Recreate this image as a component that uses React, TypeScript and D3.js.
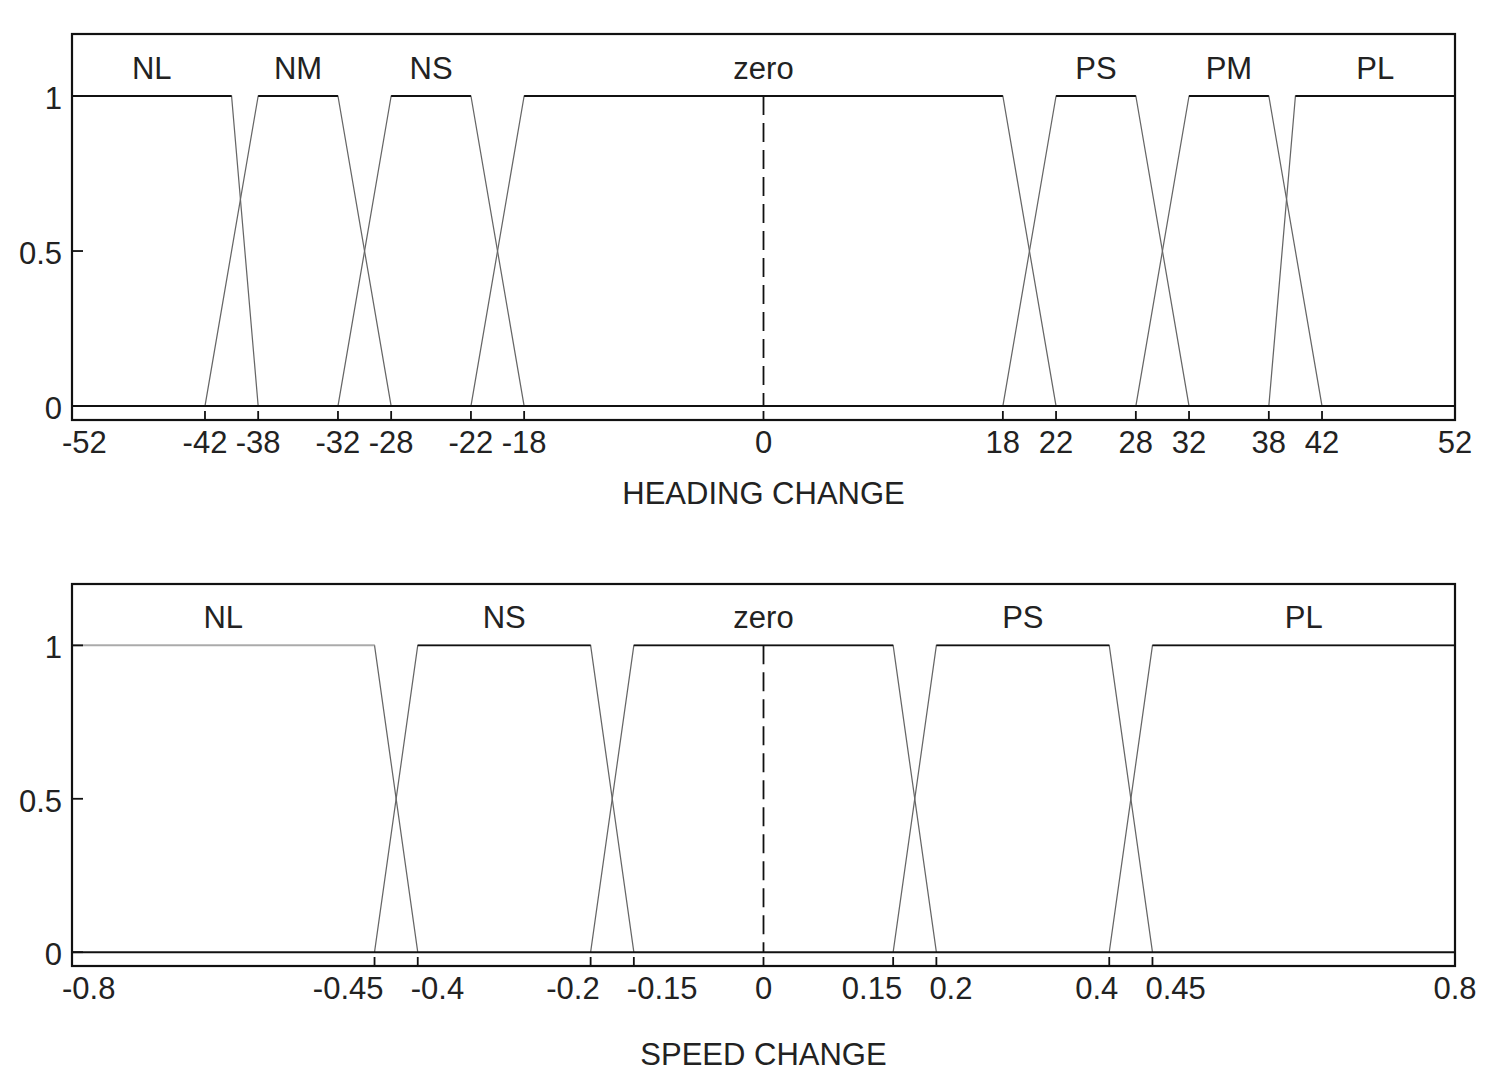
import React from 'react'
import * as d3 from 'd3'

// membership functions, each [a, b, c, d] (0 at a, 1 from b to c, 0 at d)
const headingTicks = [-52, -42, -38, -32, -28, -22, -18, 0, 18, 22, 28, 32, 38, 42, 52]
const headingSets = ['NL', 'NM', 'NS', 'zero', 'PS', 'PM', 'PL']
const headingPoints = [
  [-52, -52, -40, -38],
  [-42, -38, -32, -28],
  [-32, -28, -22, -18],
  [-22, -18, 18, 22],
  [18, 22, 28, 32],
  [28, 32, 38, 42],
  [38, 40, 52, 52],
]

const speedTicks = [-0.8, -0.45, -0.4, -0.2, -0.15, 0, 0.15, 0.2, 0.4, 0.45, 0.8]
const speedSets = ['NL', 'NS', 'zero', 'PS', 'PL']
const speedPoints = [
  [-0.8, -0.8, -0.45, -0.4],
  [-0.45, -0.4, -0.2, -0.15],
  [-0.2, -0.15, 0.15, 0.2],
  [0.15, 0.2, 0.4, 0.45],
  [0.4, 0.45, 0.8, 0.8],
]

const yTicks = [0, 0.5, 1]
const yTickLabels = ['0', '0.5', '1']

const font = '"Liberation Sans", Arial, sans-serif'
const fs = 31

type PanelProps = {
  top: number
  height: number
  domain: [number, number]
  ticks: number[]
  sets: string[]
  points: number[][]
  title: string
  titleGap: number
  faded?: number
}

function Panel({ top, height, domain, ticks, sets, points, title, titleGap, faded }: PanelProps) {
  const left = 72
  const right = 1455
  const x = d3.scaleLinear().domain(domain).range([left, right])
  const y = d3.scaleLinear().domain([-0.045, 1.2]).range([top + height, top])
  const bottom = top + height

  const line = d3.line<[number, number]>().x(d => x(d[0])).y(d => y(d[1]))

  // tick labels that sit too close get pushed apart: left one ends at its tick, right one starts at it
  const close = 48
  const labelPos = ticks.map((t, i) => {
    if (i === 0) return { x: x(t) - 10, anchor: 'start' }
    const prev = i > 0 ? x(t) - x(ticks[i - 1]) : Infinity
    const next = i < ticks.length - 1 ? x(ticks[i + 1]) - x(t) : Infinity
    if (next < close) return { x: x(t) + 9, anchor: 'end' }
    if (prev < close) return { x: x(t) - 7, anchor: 'start' }
    return { x: x(t), anchor: 'middle' }
  })

  return (
    <g>
      {/* membership trapezoids */}
      {points.map((p, i) => {
        const [a, b, c, d] = p
        const pts: [number, number][] = []
        if (a < b) pts.push([a, 0])
        pts.push([b, 1], [c, 1])
        if (d > c) pts.push([d, 0])
        return (
          <g key={i}>
            <path d={line(pts) || ''} fill="none" stroke="#666" strokeWidth={1.25} />
            <path d={line([[b, 1], [c, 1]]) || ''} fill="none"
              stroke={faded === i ? '#aaa' : '#111'} strokeWidth={1.8} />
            <text x={x((b + c) / 2)} y={y(1) - 17} textAnchor="middle"
              fontFamily={font} fontSize={fs} fill="#222">{sets[i]}</text>
          </g>
        )
      })}

      {/* zero dashed line */}
      <line x1={x(0)} x2={x(0)} y1={y(1)} y2={y(0)} stroke="#111" strokeWidth={1.8} strokeDasharray="19,8" />

      {/* baseline */}
      <line x1={left} x2={right} y1={y(0)} y2={y(0)} stroke="#111" strokeWidth={2} />

      {/* frame */}
      <rect x={left} y={top} width={right - left} height={height} fill="none" stroke="#111" strokeWidth={2.2} />

      {/* x ticks */}
      {ticks.map((t, i) => (
        <g key={i}>
          <line x1={x(t)} x2={x(t)} y1={bottom} y2={bottom - 9} stroke="#111" strokeWidth={1.8} />
          <text x={labelPos[i].x} y={bottom + 33} textAnchor={labelPos[i].anchor}
            fontFamily={font} fontSize={fs} fill="#222">{t}</text>
        </g>
      ))}

      {/* y ticks */}
      {yTicks.map((t, i) => (
        <g key={i}>
          <line x1={left} x2={left + 11} y1={y(t)} y2={y(t)} stroke="#111" strokeWidth={1.8} />
          <text x={left - 10} y={y(t) + 13} textAnchor="end"
            fontFamily={font} fontSize={fs} fill="#222">{yTickLabels[i]}</text>
        </g>
      ))}

      <text x={(left + right) / 2} y={bottom + titleGap} textAnchor="middle"
        fontFamily={font} fontSize={fs} fill="#222">{title}</text>
    </g>
  )
}

export default function App() {
  return (
    <svg width={1500} height={1088} style={{ position: 'absolute', left: 0, top: 0, background: '#fff' }}>
      <rect width={1500} height={1088} fill="#fff" />
      <Panel top={34} height={386} domain={[-52, 52]} ticks={headingTicks}
        sets={headingSets} points={headingPoints} title="HEADING CHANGE" titleGap={84} />
      <Panel top={584} height={382} domain={[-0.8, 0.8]} ticks={speedTicks}
        sets={speedSets} points={speedPoints} title="SPEED CHANGE" titleGap={99} faded={0} />
    </svg>
  )
}
